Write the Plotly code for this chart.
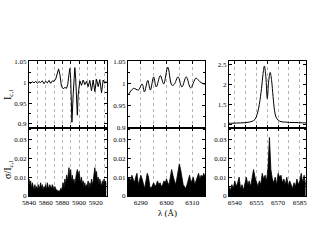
import plotly.graph_objects as go

# ---------------- data ----------------
# Na D region (upper: normalized intensity, lower: sigma)
na_wave = [5840, 5842, 5844, 5846, 5848, 5850, 5852, 5854, 5856, 5858, 5860, 5862, 5864, 5866,
           5868, 5870, 5872, 5874, 5875.5, 5877, 5879, 5881, 5883, 5885, 5886.5, 5888, 5889,
           5890, 5891.5, 5893, 5894, 5895, 5896, 5898, 5899, 5900, 5901, 5903, 5905, 5907,
           5909, 5911, 5913, 5915, 5917, 5919, 5921, 5923, 5925, 5927, 5929, 5931, 5933]
na_flux = [1.0, 0.998, 1.002, 0.999, 1.003, 0.998, 1.002, 1.0, 1.004, 0.997, 1.003, 0.999, 1.005, 0.998,
           1.004, 1.003, 1.008, 1.025, 1.033, 1.02, 0.99, 0.985, 0.988, 0.986, 0.995, 1.02, 1.034,
           1.01, 0.904, 0.97, 1.02, 1.036, 1.01, 0.921, 0.97, 1.0, 1.004, 0.993, 1.006, 0.995,
           1.003, 0.99, 1.005, 0.98, 1.006, 0.978, 1.008, 0.99, 1.007, 0.975, 1.006, 0.998, 1.004]
na_sig_start, na_sig_step = 5840, 1.0
na_sigma = [0.009, 0.006, 0.008, 0.004, 0.007, 0.005, 0.003, 0.006, 0.004, 0.005,
            0.003, 0.006, 0.004, 0.005, 0.007, 0.004, 0.006, 0.003, 0.005, 0.004,
            0.006, 0.003, 0.007, 0.005, 0.004, 0.006, 0.005, 0.004, 0.006, 0.005,
            0.003, 0.005, 0.004, 0.003, 0.003, 0.002, 0.003, 0.002, 0.004, 0.003,
            0.005, 0.007, 0.004, 0.009, 0.006, 0.011, 0.008, 0.013, 0.015, 0.010,
            0.014, 0.008, 0.011, 0.007, 0.009, 0.006, 0.010, 0.012, 0.014, 0.011,
            0.013, 0.009, 0.007, 0.010, 0.006, 0.008, 0.005, 0.007, 0.004, 0.006,
            0.005, 0.008, 0.004, 0.007, 0.005, 0.009, 0.006, 0.008, 0.012, 0.015,
            0.011, 0.013, 0.008, 0.010, 0.006, 0.009, 0.007, 0.005, 0.008, 0.006,
            0.009, 0.007, 0.008, 0.006]

# [O I] 6300 region
oi_wave = [6285, 6287.2, 6289, 6290.5, 6291.4, 6292.7, 6293.7, 6295, 6296, 6297.6, 6298.9,
           6300.5, 6302.1, 6303, 6304.5, 6306, 6307.7, 6309.4, 6311.5, 6313, 6314.5, 6315]
oi_flux = [0.975, 0.99, 0.986, 1.0, 0.982, 1.008, 0.986, 1.016, 0.993, 1.019, 1.0,
           1.038, 0.997, 0.999, 1.016, 0.993, 1.016, 0.991, 1.013, 1.005, 1.0, 1.0]
oi_sig_start, oi_sig_step = 6285, 0.5
oi_sigma = [0.009, 0.010, 0.008, 0.011, 0.009, 0.007, 0.010, 0.012, 0.006, 0.008,
            0.011, 0.009, 0.006, 0.004, 0.008, 0.012, 0.010, 0.005, 0.004, 0.006,
            0.007, 0.005, 0.006, 0.008, 0.006, 0.007, 0.005, 0.006, 0.008, 0.007,
            0.009, 0.007, 0.006, 0.010, 0.014, 0.011, 0.008, 0.006, 0.009, 0.013,
            0.017, 0.014, 0.010, 0.006, 0.005, 0.004, 0.006, 0.008, 0.011, 0.007,
            0.009, 0.010, 0.006, 0.008, 0.011, 0.012, 0.009, 0.011, 0.010, 0.012,
            0.010]

# H-alpha region
ha_wave = [6536, 6538, 6541, 6544, 6547, 6550, 6552, 6554, 6555.5, 6557, 6558.5, 6559.5,
           6560.5, 6561.5, 6562.5, 6563.5, 6564.5, 6565.5, 6566.5, 6567.5, 6568.5, 6570,
           6572, 6575, 6578, 6581, 6584, 6587, 6589.3]
ha_flux = [1.02, 1.02, 1.025, 1.03, 1.035, 1.05, 1.07, 1.12, 1.25, 1.5, 1.9, 2.25,
           2.47, 2.2, 1.65, 2.1, 2.31, 2.1, 1.7, 1.35, 1.18, 1.1,
           1.06, 1.05, 1.04, 1.04, 1.035, 1.03, 1.03]
ha_sig_start, ha_sig_step = 6536, 1.0
ha_sigma = [0.005, 0.003, 0.006, 0.004, 0.008, 0.005, 0.007, 0.010, 0.004, 0.006,
            0.003, 0.007, 0.010, 0.006, 0.008, 0.005, 0.009, 0.014, 0.010, 0.007,
            0.005, 0.008, 0.006, 0.012, 0.009, 0.011, 0.008, 0.015, 0.031, 0.014,
            0.009, 0.007, 0.010, 0.006, 0.012, 0.010, 0.011, 0.007, 0.009, 0.006,
            0.010, 0.005, 0.008, 0.006, 0.004, 0.007, 0.005, 0.009, 0.006, 0.008,
            0.012, 0.007, 0.011, 0.006]

# tick / grid positions and labels
na_xgrid = [5840, 5850, 5860, 5870, 5880, 5890, 5900, 5910, 5920, 5930]
na_xlab = ["5840", "", "5860", "", "5880", "", "5900", "", "5920", ""]
oi_xgrid = [6285, 6290, 6295, 6300, 6305, 6310, 6315]
oi_xlab = ["", "6290", "", "6300", "", "6310", ""]
ha_xgrid = [6540, 6547.5, 6555, 6562.5, 6570, 6577.5, 6585]
ha_xlab = ["6540", "", "6555", "", "6570", "", "6585"]

flux_ticks = [0.9, 0.95, 1.0, 1.05]
flux_labels = ["0.9", "0.95", "1", "1.05"]
flux_minor = [0.9, 0.925, 0.95, 0.975, 1.0, 1.025, 1.05]
ha_ticks = [1.0, 1.5, 2.0, 2.5]
ha_labels = ["1", "1.5", "2", "2.5"]
ha_minor = [1.0, 1.25, 1.5, 1.75, 2.0, 2.25, 2.5]
sig_ticks = [0, 0.01, 0.02, 0.03]
sig_labels = ["0", "0.01", "0.02", "0.03"]
sig_minor = [0, 0.005, 0.01, 0.015, 0.02, 0.025, 0.03, 0.035]

# ---------------- layout geometry ----------------
W, H = 317, 245
def xd(a, b):
    return [a / W, b / W]
def yd(top, bot):
    return [1 - bot / H, 1 - top / H]

cols = [xd(29, 106.5), xd(128, 205), xd(229, 306)]
up_dom = yd(61, 128)
lo_dom = yd(128, 196)

FONT = "Liberation Serif"
TICKFONT = dict(family=FONT, size=7, color="black")

fig = go.Figure()

def sig_x(start, step, n):
    return [start + step * i for i in range(n)]

panels = [
    (na_wave, na_flux, sig_x(na_sig_start, na_sig_step, len(na_sigma)), na_sigma,
     [5840, 5933], na_xgrid, na_xlab, [0.89, 1.052], flux_ticks, flux_labels, flux_minor, "linear"),
    (oi_wave, oi_flux, sig_x(oi_sig_start, oi_sig_step, len(oi_sigma)), oi_sigma,
     [6285, 6315], oi_xgrid, oi_xlab, [0.9, 1.052], flux_ticks, flux_labels, flux_minor, "spline"),
    (ha_wave, ha_flux, sig_x(ha_sig_start, ha_sig_step, len(ha_sigma)), ha_sigma,
     [6536, 6589.3], ha_xgrid, ha_xlab, [0.9, 2.6], ha_ticks, ha_labels, ha_minor, "spline"),
]

layout = {}
for i, (fw, ff, sw, sv, xr, xg, xl, yr, yt, yl, ym, shape) in enumerate(panels):
    up = 2 * i + 1
    lo = 2 * i + 2
    xu = "x" if up == 1 else f"x{up}"
    yu = "y" if up == 1 else f"y{up}"
    xl_ = f"x{lo}"
    yl_ = f"y{lo}"
    fig.add_trace(go.Scatter(x=fw, y=ff, mode="lines", line=dict(color="black", width=1, shape=shape),
                             xaxis=xu, yaxis=yu, showlegend=False))
    fig.add_trace(go.Scatter(x=sw, y=sv, mode="lines", fill="tozeroy", fillcolor="black",
                             line=dict(color="black", width=0.8),
                             xaxis=xl_, yaxis=yl_, showlegend=False))
    common_x = dict(domain=cols[i], range=xr, tickvals=xg, showline=True, linecolor="black",
                    linewidth=1, mirror="ticks", ticks="inside", ticklen=3, tickcolor="black",
                    showgrid=True, gridcolor="#b4b4b4", griddash="dot", gridwidth=1,
                    zeroline=False, tickfont=TICKFONT, tickangle=0, ticklabeloverflow="allow")
    xa_up = dict(common_x, anchor=yu, ticktext=["" for _ in xl], showticklabels=False)
    xa_lo = dict(common_x, anchor=yl_, ticktext=xl, showticklabels=True)
    common_y = dict(showline=True, linecolor="black", linewidth=1, mirror="ticks", ticks="inside",
                    ticklen=3, tickcolor="black", showgrid=False, zeroline=False,
                    tickfont=TICKFONT, tickangle=0, ticklabeloverflow="allow")
    ya_up = dict(common_y, domain=up_dom, range=yr, anchor=xu, tickvals=yt, ticktext=yl,
                 minor=dict(tickvals=ym, ticks="inside", ticklen=2, tickcolor="black"))
    ya_lo = dict(common_y, domain=lo_dom, range=[0, 0.036], anchor=xl_, tickvals=sig_ticks,
                 ticktext=sig_labels,
                 minor=dict(tickvals=sig_minor, ticks="inside", ticklen=2, tickcolor="black"))
    layout["xaxis" if up == 1 else f"xaxis{up}"] = xa_up
    layout[f"xaxis{lo}"] = xa_lo
    layout["yaxis" if up == 1 else f"yaxis{up}"] = ya_up
    layout[f"yaxis{lo}"] = ya_lo

fig.update_layout(template="none")
fig.update_layout(**layout)
fig.update_layout(
    width=W, height=H, margin=dict(l=0, r=0, t=0, b=0),
    paper_bgcolor="white", plot_bgcolor="white",
    font=dict(family=FONT, color="black", size=7),
    annotations=[
        dict(text="I<sub>c,l</sub>", x=8 / W, y=1 - 95 / H, xref="paper", yref="paper",
             showarrow=False, textangle=-90, font=dict(family=FONT, size=10, color="black"),
             xanchor="center", yanchor="middle"),
        dict(text="σ/I<sub>c,l</sub>", x=8 / W, y=1 - 170 / H, xref="paper", yref="paper",
             showarrow=False, textangle=-90, font=dict(family=FONT, size=10, color="black"),
             xanchor="center", yanchor="middle"),
        dict(text="λ (Å)", x=167 / W, y=1 - 212.5 / H, xref="paper", yref="paper",
             showarrow=False, font=dict(family=FONT, size=9, color="black"),
             xanchor="center", yanchor="middle"),
    ],
)

fig.write_html(
    "out.html",
    config={"displayModeBar": False},
    post_script="document.body.style.margin='0';document.body.style.overflow='hidden';",
)
